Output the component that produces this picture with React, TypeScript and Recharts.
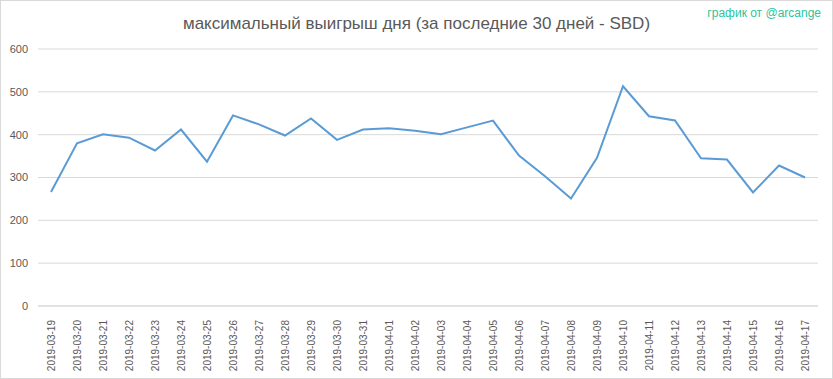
import { CartesianGrid, Line, LineChart, XAxis, YAxis } from "recharts";

const dates = [
  "2019-03-19", "2019-03-20", "2019-03-21", "2019-03-22", "2019-03-23", "2019-03-24",
  "2019-03-25", "2019-03-26", "2019-03-27", "2019-03-28", "2019-03-29", "2019-03-30",
  "2019-03-31", "2019-04-01", "2019-04-02", "2019-04-03", "2019-04-04", "2019-04-05",
  "2019-04-06", "2019-04-07", "2019-04-08", "2019-04-09", "2019-04-10", "2019-04-11",
  "2019-04-12", "2019-04-13", "2019-04-14", "2019-04-15", "2019-04-16", "2019-04-17",
];

const maxWin = [
  266, 380, 401, 393, 363, 412, 337, 445, 424, 398, 438, 388, 412, 415, 409,
  401, 417, 433, 351, 303, 251, 346, 513, 443, 433, 345, 342, 265, 328, 300,
];

const yTicks = [0, 100, 200, 300, 400, 500, 600];

const data = dates.map((d, i) => ({ date: d, value: maxWin[i] }));

const DateTick = (props: any) => {
  const { x, y, payload } = props;
  return (
    <text
      transform={`translate(${x},${y + 6}) rotate(-90)`}
      textAnchor="end"
      dy={4}
      fill="#595959"
      fontSize={10}
      fontFamily="'Liberation Sans', Arial, sans-serif"
    >
      {payload.value}
    </text>
  );
};

export default function App() {
  return (
    <div
      style={{
        position: "relative",
        width: 833,
        height: 379,
        boxSizing: "border-box",
        border: "1px solid #d9d9d9",
        background: "#fff",
        fontFamily: "'Liberation Sans', Arial, sans-serif",
      }}
    >
      <style>{`body{margin:0}`}</style>
      <div
        style={{
          position: "absolute",
          top: 13,
          left: 0,
          width: 831,
          textAlign: "center",
          fontSize: 17,
          color: "#595959",
        }}
      >
        максимальный выигрыш дня (за последние 30 дней - SBD)
      </div>
      <div
        style={{
          position: "absolute",
          top: 5,
          right: 11,
          fontSize: 12,
          color: "#2bc49c",
        }}
      >
        график от @arcange
      </div>
      <LineChart
        width={831}
        height={377}
        data={data}
        margin={{ top: 48, right: 14, left: 0, bottom: 0 }}
      >
        <CartesianGrid vertical={false} stroke="#d9d9d9" />
        <XAxis
          dataKey="date"
          interval={0}
          height={72}
          padding={{ left: 13, right: 13 }}
          tick={<DateTick />}
          tickLine={false}
          axisLine={{ stroke: "#d9d9d9" }}
        />
        <YAxis
          domain={[0, 600]}
          ticks={yTicks}
          width={37}
          tickLine={false}
          axisLine={false}
          tickMargin={4}
          tick={{ fill: "#595959", fontSize: 11 }}
        />
        <Line
          type="linear"
          dataKey="value"
          stroke="#5b9bd5"
          strokeWidth={2}
          dot={false}
          isAnimationActive={false}
        />
      </LineChart>
    </div>
  );
}
